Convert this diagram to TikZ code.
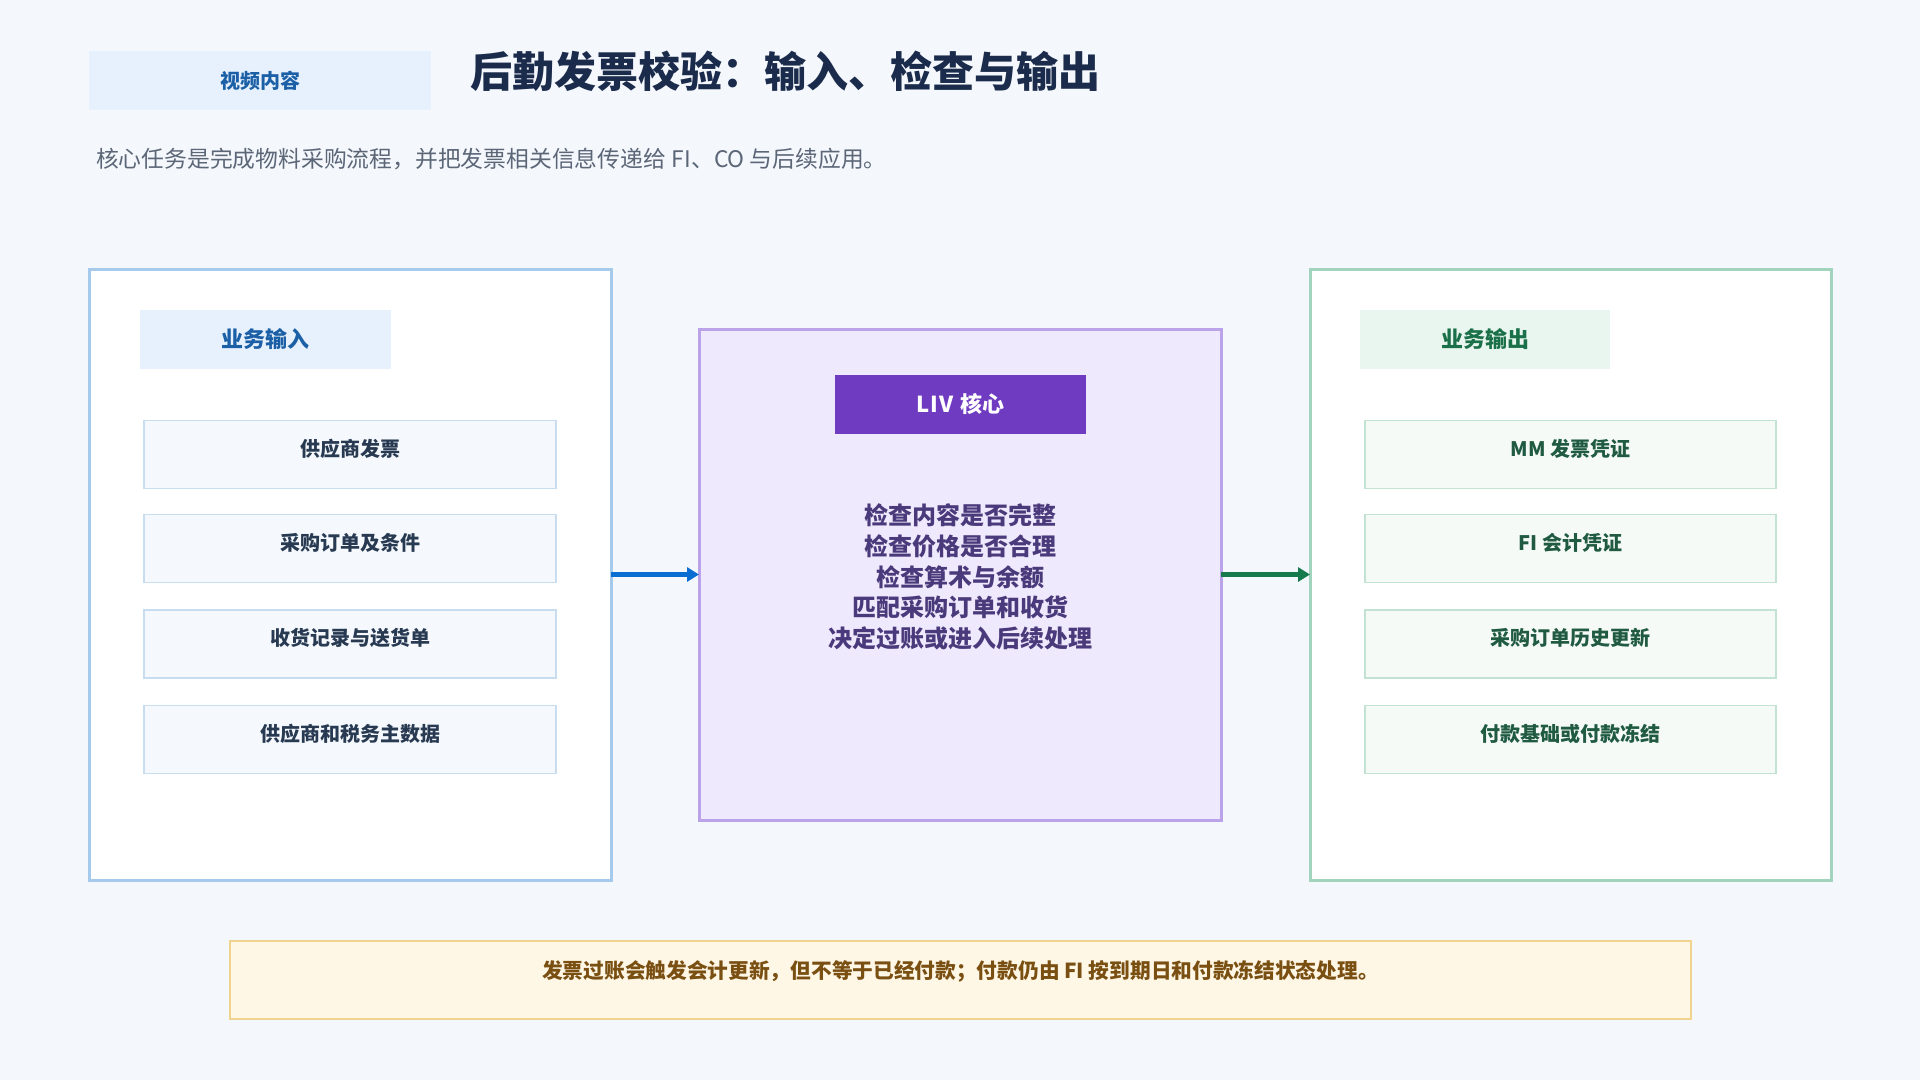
\documentclass[tikz,border=0pt]{standalone}
\usepackage{fontspec}
\setmainfont{Noto Sans CJK SC}
\usetikzlibrary{arrows.meta}
\definecolor{bg}{HTML}{F4F7FC}
\definecolor{tagblue}{HTML}{E6F1FD}
\definecolor{txtblue}{HTML}{1B5FA6}
\definecolor{titlec}{HTML}{1B2B4B}
\definecolor{subc}{HTML}{5B6677}
\definecolor{bordL}{HTML}{A6CAEB}
\definecolor{itemLfill}{HTML}{F5F9FD}
\definecolor{itemLbord}{HTML}{C9DDF0}
\definecolor{itemLtxt}{HTML}{283A52}
\definecolor{corefill}{HTML}{EFE9FD}
\definecolor{corebord}{HTML}{BBA3E9}
\definecolor{corehead}{HTML}{6F3BC0}
\definecolor{coretxt}{HTML}{4B3A7B}
\definecolor{bordR}{HTML}{A2D4BD}
\definecolor{taggreen}{HTML}{E9F6EF}
\definecolor{txtgreen}{HTML}{1A7048}
\definecolor{itemRfill}{HTML}{F5FAF7}
\definecolor{itemRbord}{HTML}{C2E3D2}
\definecolor{itemRtxt}{HTML}{1F5A41}
\definecolor{arrblue}{HTML}{0A6DD2}
\definecolor{arrgreen}{HTML}{177A4D}
\definecolor{notefill}{HTML}{FFF7E6}
\definecolor{notebord}{HTML}{F1D28E}
\definecolor{notetxt}{HTML}{7A4F12}
\begin{document}
\begin{tikzpicture}[x=1pt,y=-1pt,
  box/.style={rectangle,inner sep=0pt,outer sep=0pt},
  tag/.style={box,font=\bfseries\fontsize{20}{24}\selectfont},
  panelL/.style={box,draw=bordL,fill=white,line width=3pt,minimum width=522pt,minimum height=611pt},
  panelR/.style={box,draw=bordR,fill=white,line width=3pt,minimum width=521pt,minimum height=611pt},
  panelC/.style={box,draw=corebord,fill=corefill,line width=3pt,minimum width=522pt,minimum height=491pt},
  itemL/.style={box,draw=itemLbord,fill=itemLfill,line width=1.2pt,minimum width=412pt,minimum height=68pt},
  itemR/.style={box,draw=itemRbord,fill=itemRfill,line width=1.2pt,minimum width=411pt,minimum height=68pt},
  itxtL/.style={box,text=itemLtxt,font=\bfseries\fontsize{20}{24}\selectfont},
  itxtR/.style={box,text=itemRtxt,font=\bfseries\fontsize{20}{24}\selectfont},
  arr/.style={line width=5pt,-{Triangle[length=12pt,width=14pt]}}
]
\fill[bg] (0,0) rectangle (1920,1080);
\useasboundingbox (0,0) rectangle (1920,1080);

% header
\node[box,fill=tagblue,minimum width=342pt,minimum height=59pt] (vtag) at (260,80.5) {};
\node[tag,text=txtblue] (vtagt) at (vtag.center) {视频内容};
\node[box,anchor=west,text=titlec,font=\bfseries\fontsize{42}{48}\selectfont] (title) at (470,71) {后勤发票校验：输入、检查与输出};
\node[box,anchor=west,text=subc,font=\fontsize{22.8}{28}\selectfont] (sub) at (96,159) {核心任务是完成物料采购流程，并把发票相关信息传递给\hspace{6pt}FI、CO 与后续应用。};

% left panel
\node[panelL] (inP) at (350,574.5) {};
\node[box,fill=tagblue,minimum width=251pt,minimum height=59pt] (inTag) at (265.5,339.5) {};
\node[tag,text=txtblue,font=\bfseries\fontsize{22}{26}\selectfont] at (inTag.center) {业务输入};
\node[itemL] (i1) at (350,454.5) {};
\node[itemL] (i2) at (350,548.5) {};
\node[itemL] (i3) at (350,644) {};
\node[itemL] (i4) at (350,739.5) {};
\node[itxtL] at ([yshift=6pt]i1.center) {供应商发票};
\node[itxtL] at ([yshift=6pt]i2.center) {采购订单及条件};
\node[itxtL] at ([yshift=6pt]i3.center) {收货记录与送货单};
\node[itxtL] at ([yshift=6pt]i4.center) {供应商和税务主数据};

% core panel
\node[panelC] (core) at (960,574.5) {};
\node[box,fill=corehead,minimum width=251pt,minimum height=59pt] (coreHead) at (960.5,404) {};
\node[box,text=white,font=\bfseries\fontsize{22}{26}\selectfont] at (coreHead.center) {{\addfontfeature{LetterSpace=6}LIV}\hspace{7pt}核心};
\node[box,align=center,text=coretxt,font=\bfseries\fontsize{24}{30.6}\selectfont] (coreTxt) at (960,577) {检查内容是否完整\\检查价格是否合理\\检查算术与余额\\匹配采购订单和收货\\决定过账或进入后续处理};

% right panel
\node[panelR] (outP) at (1570.5,574.5) {};
\node[box,fill=taggreen,minimum width=250pt,minimum height=59pt] (outTag) at (1485,339.5) {};
\node[tag,text=txtgreen,font=\bfseries\fontsize{22}{26}\selectfont] at (outTag.center) {业务输出};
\node[itemR] (o1) at (1570.5,454.5) {};
\node[itemR] (o2) at (1570.5,548.5) {};
\node[itemR] (o3) at (1570.5,644) {};
\node[itemR] (o4) at (1570.5,739.5) {};
\node[itxtR] at ([yshift=6pt]o1.center) {MM 发票凭证};
\node[itxtR] at ([yshift=6pt]o2.center) {FI 会计凭证};
\node[itxtR] at ([yshift=6pt]o3.center) {采购订单历史更新};
\node[itxtR] at ([yshift=6pt]o4.center) {付款基础或付款冻结};

% arrows
\draw[arr,arrblue] (inP.east) -- (core.west);
\draw[arr,arrgreen] (core.east) -- (outP.west);

% note
\node[box,draw=notebord,fill=notefill,line width=2pt,minimum width=1461pt,minimum height=78pt] (note) at (960.5,979.5) {};
\node[box,text=notetxt,font=\bfseries\fontsize{20.7}{24}\selectfont] at ([yshift=8pt]note.center) {发票过账会触发会计更新，但不等于已经付款；付款仍由 FI 按到期日和付款冻结状态处理。};
\end{tikzpicture}
\end{document}
